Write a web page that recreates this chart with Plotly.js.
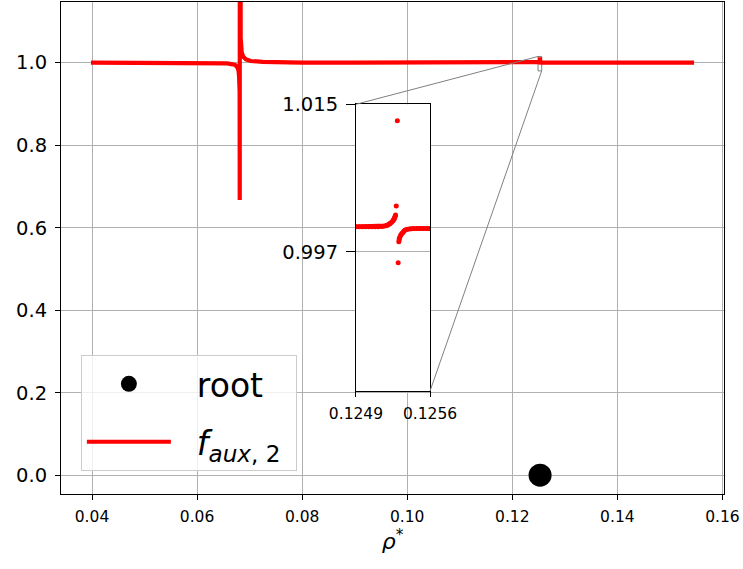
<!DOCTYPE html>
<html>
<head>
<meta charset="utf-8">
<script src="https://cdn.plot.ly/plotly-3.0.1.min.js"></script>
<style>html,body{margin:0;padding:0;background:#fff}#chart{width:743px;height:569px}</style>
</head>
<body>
<div id="chart"></div>
<script>
// ---- data ----
const mainX = [0.0398, 0.045, 0.05, 0.055, 0.06, 0.064, 0.0657, 0.0668, 0.0673, 0.0677, 0.0679, 0.0680, 0.0681, 0.06812,
  0.06816, 0.0682, 0.06825, 0.0683, 0.0685, 0.0688, 0.0693, 0.0702, 0.0725, 0.076, 0.08, 0.09, 0.10, 0.11, 0.12, 0.124,
  0.12516, 0.12527, 0.125277, 0.125286, 0.125296, 0.125302, 0.12534, 0.1255, 0.126, 0.13, 0.14, 0.15, 0.1546];
const mainY = [1.0, 1.0, 1.0, 1.0, 0.9995, 0.999, 0.998, 0.996, 0.994, 0.988, 0.98, 0.965, 0.93, 0.667,
  3.0, 1.30, 1.12, 1.06, 1.025, 1.014, 1.008, 1.004, 1.002, 1.001, 1.0, 1.0, 1.0, 1.0, 1.0, 1.0,
  1.0, 1.0015, 1.0026, 1.013, 0.9957, 0.9982, 0.9994, 0.9999, 1.0, 1.0, 1.0, 1.0, 1.0];

const insetX = [0.124900, 0.124930, 0.124960, 0.124990, 0.125020, 0.125050, 0.125080, 0.125110, 0.125140, 0.125161,
  0.125180, 0.125192, 0.125205, 0.125215, 0.125223, 0.125236, 0.125248, 0.125257, 0.125264, 0.125270, 0.125274,
  0.125277, 0.125281, 0.125286, 0.125291, 0.125296, 0.125299,
  0.125302, 0.125305, 0.125308, 0.125315, 0.125324, 0.125333, 0.125343, 0.125353, 0.125365, 0.125385, 0.125412,
  0.125440, 0.125474, 0.125505, 0.125537, 0.125570, 0.125600];
const insetY = [1.00005, 1.00005, 1.00005, 1.00005, 1.00005, 1.00005, 1.00005, 1.00006, 1.00008, 1.00012,
  1.00018, 1.00022, 1.00030, 1.00038, 1.00046, 1.00060, 1.00075, 1.00092, 1.00107, 1.00128, 1.00148,
  null, 1.00258, null, 1.01300, null, 0.99566,
  null, 0.99822, 0.99855, 0.99880, 0.99904, 0.99922, 0.99936, 0.99952, 0.99965, 0.99975, 0.99981,
  0.99984, 0.99985, 0.99985, 0.99985, 0.99985, 0.99985];

const rootX = [0.12529];
const rootY = [0.0];

const xTickVals = [0.04, 0.06, 0.08, 0.10, 0.12, 0.14, 0.16];
const xTickText = ['0.04', '0.06', '0.08', '0.10', '0.12', '0.14', '0.16'];
const yTickVals = [0.0, 0.2, 0.4, 0.6, 0.8, 1.0];
const yTickText = ['0.0', '0.2', '0.4', '0.6', '0.8', '1.0'];
const insetXTickVals = [0.1249, 0.1256];
const insetXTickText = ['0.1249', '0.1256'];
const insetYTickVals = [0.997, 1.015];
const insetYTickText = ['0.997', '1.015'];

// ---- layout constants ----
const X_RANGE = [0.0341, 0.1603];
const Y_RANGE = [-0.0455, 1.147];
const IN_X_RANGE = [0.1249, 0.1256];
const IN_Y_RANGE = [0.980, 1.015];
const IN_X_DOM = [0.4449, 0.5566];
const IN_Y_DOM = [0.2093, 0.7921];

function px(v) { return (v - X_RANGE[0]) / (X_RANGE[1] - X_RANGE[0]); }
function py(v) { return (v - Y_RANGE[0]) / (Y_RANGE[1] - Y_RANGE[0]); }

const FONT = 'DejaVu Sans, sans-serif';
const GRID = '#b0b0b0';

const traces = [
  {x: rootX, y: rootY, type: 'scatter', mode: 'markers', name: '&nbsp;&nbsp;root',
   marker: {color: '#000000', size: 23}, xaxis: 'x', yaxis: 'y', legendrank: 1, legendgroup: 'a'},
  {x: mainX, y: mainY, type: 'scatter', mode: 'lines', name: '&nbsp;&nbsp;<i>f</i><sub><i>aux</i>, 2</sub>&nbsp;',
   line: {color: '#ff0000', width: 4.2}, xaxis: 'x', yaxis: 'y', legendrank: 2, legendgroup: 'b'},
  {x: insetX, y: insetY, type: 'scatter', mode: 'lines+markers', showlegend: false,
   line: {color: '#ff0000', width: 4.5}, marker: {color: '#ff0000', size: 5},
   xaxis: 'x2', yaxis: 'y2', connectgaps: false}
];

const axisCommon = {
  showline: true, linecolor: '#000', linewidth: 1, mirror: true,
  ticks: 'outside', ticklen: 5, tickcolor: '#000', tickwidth: 1,
  showgrid: true, gridcolor: GRID, gridwidth: 1, zeroline: false
};

const layout = {
  width: 743, height: 569,
  margin: {l: 61, r: 19, t: 2, b: 75},
  paper_bgcolor: '#fff', plot_bgcolor: '#fff',
  font: {family: FONT, color: '#000'},
  showlegend: true,
  xaxis: Object.assign({}, axisCommon, {
    range: X_RANGE, domain: [0, 1], tickvals: xTickVals, ticktext: xTickText,
    tickfont: {size: 15.5, family: FONT}, ticklabelstandoff: 3,
    title: {text: '<i>ρ</i><sup>*</sup>', font: {size: 22, family: FONT}, standoff: 8}
  }),
  yaxis: Object.assign({}, axisCommon, {
    range: Y_RANGE, domain: [0, 1], tickvals: yTickVals, ticktext: yTickText,
    tickfont: {size: 19.5, family: FONT}, ticklabelstandoff: 4
  }),
  xaxis2: Object.assign({}, axisCommon, {
    anchor: 'y2', range: IN_X_RANGE, domain: IN_X_DOM, tickvals: insetXTickVals, ticktext: insetXTickText,
    tickfont: {size: 15.5, family: FONT}, ticklabelstandoff: 3
  }),
  yaxis2: Object.assign({}, axisCommon, {
    anchor: 'x2', range: IN_Y_RANGE, domain: IN_Y_DOM, tickvals: insetYTickVals, ticktext: insetYTickText,
    tickfont: {size: 19.5, family: FONT}, ticklen: 9, ticklabelstandoff: 4
  }),
  legend: {
    x: 0.030, y: 0.047, xanchor: 'left', yanchor: 'bottom',
    bgcolor: 'rgba(255,255,255,0.8)', bordercolor: '#cccccc', borderwidth: 1,
    font: {size: 33, family: FONT}, itemwidth: 84, tracegroupgap: 12, traceorder: 'grouped'
  },
  shapes: [
    {type: 'rect', xref: 'x', yref: 'y', x0: IN_X_RANGE[0], x1: IN_X_RANGE[1], y0: IN_Y_RANGE[0], y1: IN_Y_RANGE[1],
     line: {color: '#808080', width: 1}, layer: 'below'},
    {type: 'line', xref: 'paper', yref: 'paper', x0: IN_X_DOM[0], y0: IN_Y_DOM[1],
     x1: px(IN_X_RANGE[0]), y1: py(IN_Y_RANGE[1]), line: {color: '#808080', width: 1}},
    {type: 'line', xref: 'paper', yref: 'paper', x0: IN_X_DOM[1], y0: IN_Y_DOM[0],
     x1: px(IN_X_RANGE[1]), y1: py(IN_Y_RANGE[0]), line: {color: '#808080', width: 1}}
  ]
};

Plotly.newPlot('chart', traces, layout, {displayModeBar: false, staticPlot: true});
</script>
</body>
</html>
